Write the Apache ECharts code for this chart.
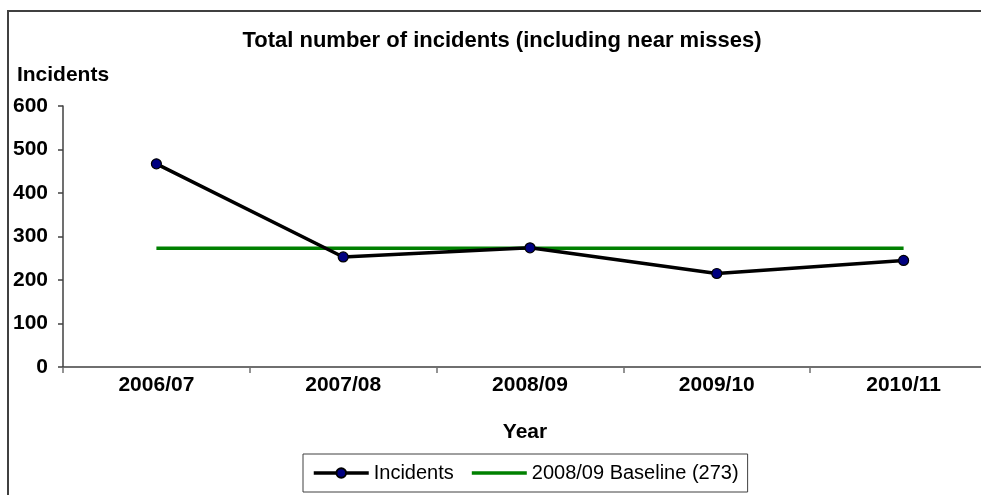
<!DOCTYPE html>
<html>
<head>
<meta charset="utf-8">
<script src="https://cdn.jsdelivr.net/npm/echarts@6/dist/echarts.min.js"></script>
<style>
html,body{margin:0;padding:0;background:#fff;}
#chart{width:981px;height:495px;}
</style>
</head>
<body>
<div id="chart"></div>
<script>
var categories = ['2006/07', '2007/08', '2008/09', '2009/10', '2010/11'];
var incidents = [467, 253, 274, 215, 245];
var baseline = [273, 273, 273, 273, 273];
var yTicks = { min: 0, max: 600, interval: 100 };

var FONT = 'Liberation Sans, Arial, sans-serif';
var chart = echarts.init(document.getElementById('chart'), null, { renderer: 'canvas' });
chart.setOption({
  backgroundColor: '#fff',
  animation: false,
  graphic: [{
    type: 'rect',
    shape: { x: 8, y: 11, width: 1000, height: 500 },
    style: { fill: 'none', stroke: '#404040', lineWidth: 2 },
    silent: true
  }],
  title: {
    text: 'Total number of incidents (including near misses)',
    left: 497,
    textAlign: 'center',
    top: 25,
    textStyle: { fontFamily: FONT, fontWeight: 'bold', fontSize: 22, color: '#000' }
  },
  grid: { left: 63, width: 934, top: 106, height: 261, containLabel: false, outerBoundsMode: 'none' },
  legend: {
    left: 303,
    top: 454,
    padding: [9, 9, 9, 9],
    itemGap: 18,
    itemWidth: 55,
    itemHeight: 12,
    borderColor: '#404040',
    borderWidth: 1,
    textStyle: { fontFamily: FONT, fontSize: 20, color: '#000' },
    data: [
      { name: 'Incidents', lineStyle: { width: 3.5 } },
      { name: '2008/09 Baseline (273)', icon: 'path://M0,0 L55,0 L55,3.5 L0,3.5 Z' }
    ]
  },
  xAxis: {
    type: 'category',
    data: categories,
    boundaryGap: true,
    name: 'Year',
    nameLocation: 'middle',
    nameGap: 55,
    nameTextStyle: { fontFamily: FONT, fontWeight: 'bold', fontSize: 21, color: '#000', padding: [0, 10, 0, 0] },
    axisLine: { lineStyle: { color: '#404040', width: 1.5 } },
    axisTick: { show: true, length: 6, lineStyle: { color: '#707070', width: 1.5 } },
    axisLabel: { margin: 8, fontFamily: FONT, fontWeight: 'bold', fontSize: 21, color: '#000' },
    splitLine: { show: false }
  },
  yAxis: {
    type: 'value',
    min: yTicks.min,
    max: yTicks.max,
    interval: yTicks.interval,
    name: 'Incidents',
    nameLocation: 'end',
    nameGap: 31,
    nameTextStyle: { fontFamily: FONT, fontWeight: 'bold', fontSize: 21, color: '#000', align: 'center', verticalAlign: 'middle' },
    axisLine: { show: true, lineStyle: { color: '#404040', width: 1.5 } },
    axisTick: { show: true, length: 5, lineStyle: { color: '#404040', width: 1.5 } },
    axisLabel: { margin: 15, fontFamily: FONT, fontWeight: 'bold', fontSize: 21, color: '#000' },
    splitLine: { show: false }
  },
  series: [{
    name: 'Incidents',
    type: 'line',
    data: incidents,
    symbol: 'circle',
    symbolSize: 10,
    lineStyle: { color: '#000', width: 3.5 },
    itemStyle: { color: '#000080', borderColor: '#000', borderWidth: 1.2 },
    z: 3
  }, {
    name: '2008/09 Baseline (273)',
    type: 'line',
    data: baseline,
    symbol: 'none',
    lineStyle: { color: '#008000', width: 3.5 },
    itemStyle: { color: '#008000' },
    z: 2
  }]
});
</script>
</body>
</html>
